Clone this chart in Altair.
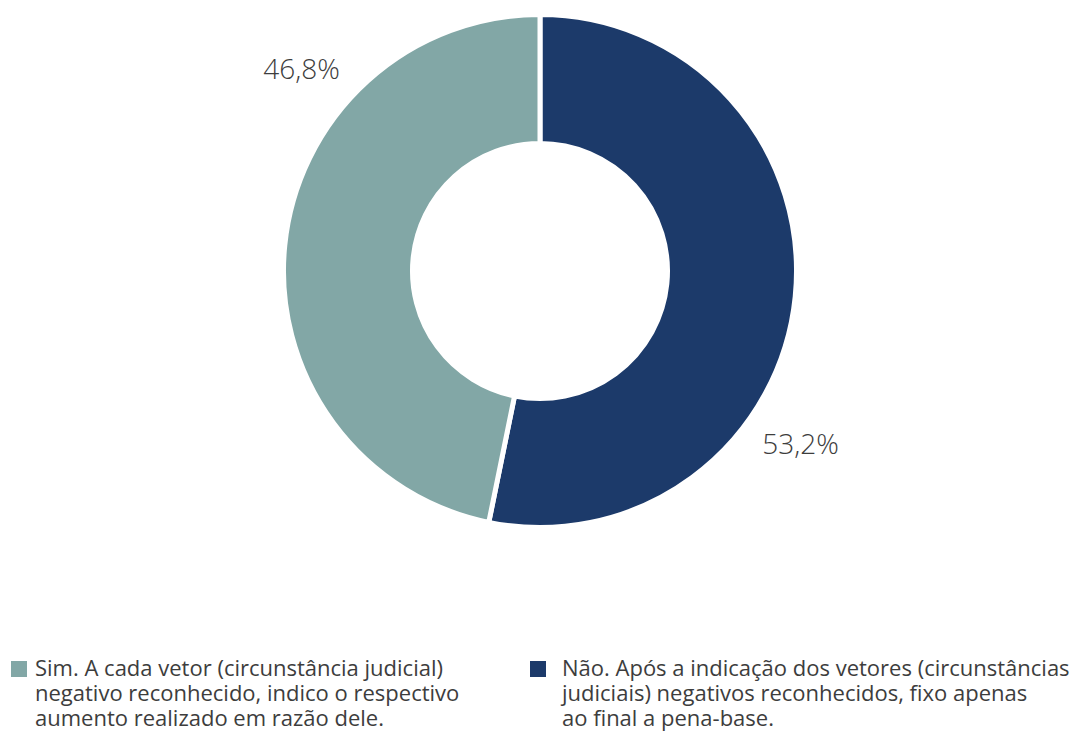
import altair as alt
import pandas as pd

categories = ["Não", "Sim"]
values = [53.2, 46.8]
labels = ["53,2%", "46,8%"]
colors = ["#1c3a6a", "#82a7a6"]
legend_sim = ["Sim. A cada vetor (circunstância judicial)",
              "negativo reconhecido, indico o respectivo",
              "aumento realizado em razão dele."]
legend_nao = ["Não. Após a indicação dos vetores (circunstâncias",
              "judiciais) negativos reconhecidos, fixo apenas",
              "ao final a pena-base."]

FONT = "Open Sans"
TXT = "#3d3d3d"

df = pd.DataFrame({"cat": categories, "value": values, "label": labels, "ord": [0, 1]})

base = alt.Chart(df).encode(
    theta=alt.Theta("value:Q", stack=True),
    order=alt.Order("ord:Q"),
    x=alt.value(532),
    y=alt.value(263),
)

arc = base.mark_arc(outerRadius=256.5, innerRadius=127.5, stroke="white", strokeWidth=5).encode(
    color=alt.Color("cat:N", scale=alt.Scale(domain=categories, range=colors), legend=None)
)

lab_sim = base.transform_calculate(t="datum.cat == 'Sim' ? datum.label : ''").mark_text(
    radius=311, thetaOffset=0.597, font=FONT, fontWeight=300, fontSize=28, color=TXT,
    align="center", baseline="middle"
).encode(text="t:N")

lab_nao = base.transform_calculate(t="datum.cat == 'Não' ? datum.label : ''").mark_text(
    radius=314, thetaOffset=0.492, font=FONT, fontWeight=300, fontSize=28, color=TXT,
    align="center", baseline="middle"
).encode(text="t:N")

def legend_item(cat, lines, color, mx, tx):
    d = pd.DataFrame({"cat": [cat]})
    layers = [alt.Chart(d).mark_square(size=256, color=color, opacity=1).encode(
        x=alt.value(mx), y=alt.value(661))]
    for i, line in enumerate(lines):
        layers.append(alt.Chart(d).mark_text(
            font=FONT, fontSize=22, color=TXT, align="left", baseline="alphabetic",
            text=line).encode(x=alt.value(tx), y=alt.value(668 + 25 * i)))
    return alt.layer(*layers)

leg1 = legend_item("Sim", legend_sim, colors[1], 11, 27)
leg2 = legend_item("Não", legend_nao, colors[0], 530, 554)

chart = alt.layer(arc, lab_sim, lab_nao, leg1, leg2).properties(
    width=1068, height=760, padding=0, autosize="none"
).configure_view(stroke=None)

chart.save("out.html", embed_options={"renderer": "svg", "actions": False})
